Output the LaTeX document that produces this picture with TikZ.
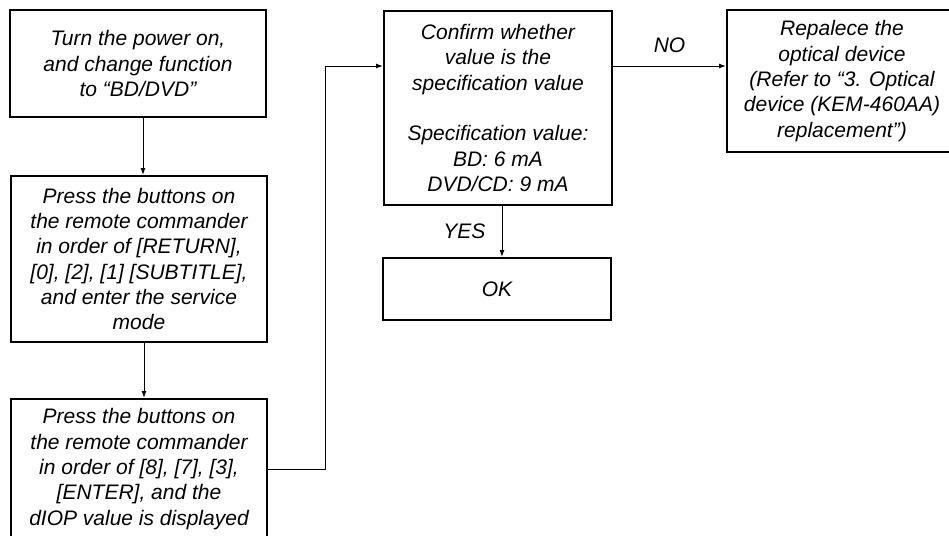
\documentclass[tikz,border=0pt]{standalone}
\usepackage{fontspec}
\setmainfont{Liberation Sans}
\usetikzlibrary{arrows.meta}
\tikzstyle{flowbox}=[draw=black, line width=1pt, align=center, inner sep=0pt,
                text=black, font=\fontsize{10.5}{12.65}\selectfont\itshape]
\tikzstyle{flow}=[->, draw, line width=0.5pt]
\tikzstyle{elabel}=[text=black, inner sep=3.5pt, font=\fontsize{10.5}{12.65}\selectfont\itshape]

\begin{document}
\begin{tikzpicture}[x=0.5pt, y=-0.5pt, >={Latex[length=3.5pt,width=2.5pt]}]
\useasboundingbox (0,0) rectangle (949,536);
\clip (0,0) rectangle (949,536);
\node[flowbox, minimum width=128pt, minimum height=53.5pt] (power) at (138,63.5)
  {Turn the power on,\\and change function\\to “BD/DVD”};
\node[flowbox, minimum width=128pt, minimum height=83pt] (service) at (139,259)
  {Press the buttons on\\the remote commander\\in order of [RETURN],\\{}[0], [2], [1] [SUBTITLE],\\and enter the service\\mode};
\node[flowbox, minimum width=128pt, minimum height=70pt] (diop) at (139,469)
  {Press the buttons on\\the remote commander\\in order of [8], [7], [3],\\{}[ENTER], and the\\dIOP value is displayed};
\node[flowbox, minimum width=114pt, minimum height=97pt] (confirm) at (498,108)
  {Confirm whether\\value is the\\specification value\\[12.65pt]Specification value:\\BD: 6 mA\\DVD/CD: 9 mA};
\node[flowbox, minimum width=114pt, minimum height=31pt] (ok) at (497,289) {OK};
\node[flowbox, minimum width=115pt, minimum height=71pt] (replace) at (842,81)
  {Repalece the\\optical device\\(Refer to “3. Optical\\device (KEM-460AA)\\replacement”)};
\coordinate (bend) at (325,66);
\path[flow] ([xshift=2.5pt]power.south) -- ([xshift=2.5pt]power.south |- service.north);
\path[flow] ([xshift=2.5pt]service.south) -- ([xshift=2.5pt]service.south |- diop.north);
\path[flow] (diop.east) -| (bend) -- (bend -| confirm.west);
\path[flow] ([xshift=2pt]confirm.south) -- node[elabel, left=4.5pt] {YES} ([xshift=2pt]confirm.south |- ok.north);
\path[flow] (confirm.east |- bend) -- node[elabel, above=3pt] {NO} (replace.west |- bend);
\end{tikzpicture}
\end{document}
